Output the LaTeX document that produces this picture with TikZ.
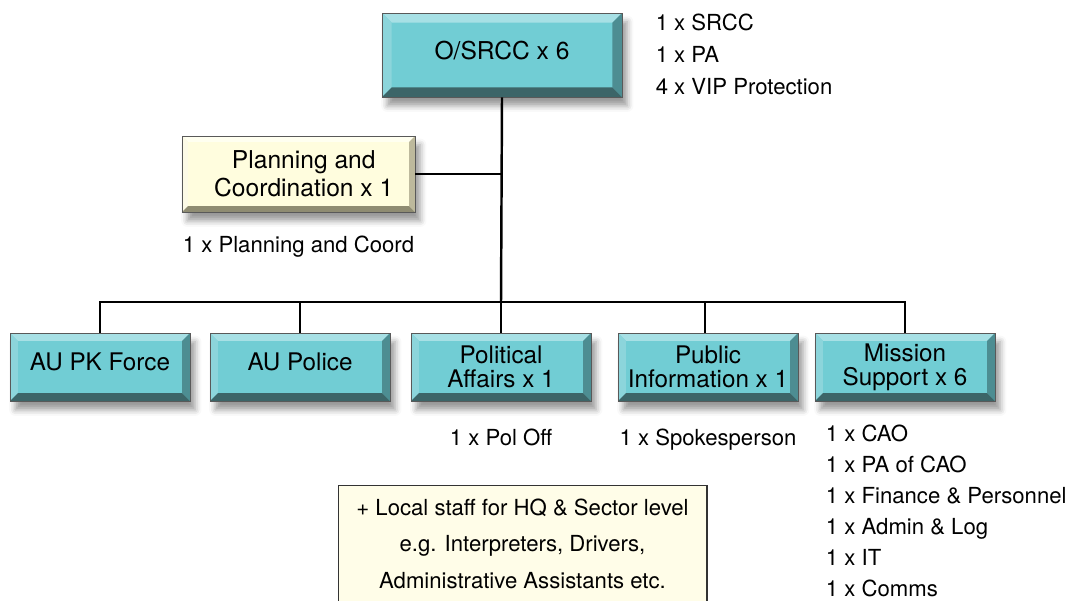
\documentclass[tikz,border=0pt]{standalone}
\usepackage{fontspec}
\setmainfont{TeX Gyre Heros}
\usetikzlibrary{positioning,shadows.blur}

\definecolor{tealmid}{RGB}{113,205,212}
\definecolor{tealtop}{RGB}{167,224,229}
\definecolor{tealleft}{RGB}{140,213,219}
\definecolor{tealright}{RGB}{77,141,146}
\definecolor{tealbottom}{RGB}{60,101,104}
\definecolor{creammid}{RGB}{255,253,222}
\definecolor{creamtop}{RGB}{255,255,240}
\definecolor{creamleft}{RGB}{252,250,230}
\definecolor{creamright}{RGB}{189,185,156}
\definecolor{creambottom}{RGB}{143,140,114}
\definecolor{notefill}{RGB}{255,253,232}

% the four bevel faces of a button box: top, left, right, bottom, width
\newcommand{\bevelfaces}[5]{%
  \coordinate (bnw) at (path picture bounding box.north west);
  \coordinate (bne) at (path picture bounding box.north east);
  \coordinate (bsw) at (path picture bounding box.south west);
  \coordinate (bse) at (path picture bounding box.south east);
  \fill[#1] (bnw) -- (bne) -- ++(-#5,-#5) -- ([shift={(#5,-#5)}]bnw) -- cycle;
  \fill[#2] (bnw) -- (bsw) -- ++(#5,#5) -- ([shift={(#5,-#5)}]bnw) -- cycle;
  \fill[#3] (bne) -- (bse) -- ++(-#5,#5) -- ([shift={(-#5,-#5)}]bne) -- cycle;
  \fill[#4] (bsw) -- (bse) -- ++(-#5,#5) -- ([shift={(#5,#5)}]bsw) -- cycle;
}

\tikzset{
  bevelbox/.style={draw=black!65, line width=0.5pt, align=center,
    font=\fontsize{13.8}{13.6}\selectfont,
    blur shadow={shadow xshift=3pt, shadow yshift=-5pt, shadow blur radius=3.5pt, shadow opacity=40}},
  tealbox/.style={bevelbox, fill=tealmid, minimum width=3.6cm, minimum height=1.36cm,
    path picture={\bevelfaces{tealtop}{tealleft}{tealright}{tealbottom}{4.5pt}}},
  oneline/.style={text depth=6pt},
  headbox/.style={bevelbox, fill=tealmid, minimum width=4.8cm, minimum height=1.68cm,
    font=\fontsize{14}{16}\selectfont, text depth=5pt,
    path picture={\bevelfaces{tealtop}{tealleft}{tealright}{tealbottom}{5.5pt}}},
  creambox/.style={bevelbox, fill=creammid, minimum width=4.66cm, minimum height=1.52cm,
    font=\fontsize{14}{16}\selectfont,
    path picture={\bevelfaces{creamtop}{creamleft}{creamright}{creambottom}{3.4pt}}},
  note/.style={font=\fontsize{12.6}{17.7}\selectfont, inner sep=0pt},
  link/.style={line width=1.4pt}
}

\begin{document}
\begin{tikzpicture}[x=0.02cm, y=-0.02cm]
    \useasboundingbox (0,0) rectangle (1074,600);
    \clip (0,0) rectangle (1074,600);

    % Draw the head box and its staff
    \node[headbox] (srcc) at (502,55) {O/SRCC x 6};
    \node[note, align=left, font=\fontsize{12.6}{18.1}\selectfont,
          below right=0.02cm and 0.66cm of srcc.north east] (srccstaff)
        {1 x SRCC\\1 x PA\\4 x VIP Protection};

    % Draw the planning box
    \node[creambox] (plan) at (298.5,174) {\hspace*{6pt}Planning and\\\hspace*{6pt}Coordination x 1};
    \node[note, below=0.46cm of plan] (planstaff) {1 x Planning and Coord};

    % Draw the row of components
    \node[tealbox, oneline] (pkforce) at (100,367) {AU PK Force};
    \node[tealbox, oneline] (police) at (300,367) {AU Police};
    \node[tealbox] (political) at (501,367) {Political\\Affairs x 1};
    \node[tealbox] (public) at (708,367) {Public\\Information x 1};
    \node[tealbox] (mission) at (905,367) {Mission\\Support x 6};

    % Draw the staff under the components
    \node[note, below=0.54cm of political] (polstaff) {1 x Pol Off};
    \node[note, below=0.54cm of public] (pubstaff) {1 x Spokesperson};
    \node[note, align=left, font=\fontsize{12.6}{17.7}\selectfont,
          below right=0.46cm and 0.22cm of mission.south west] (missionstaff)
        {1 x CAO\\1 x PA of CAO\\1 x Finance \& Personnel\\1 x Admin \& Log\\1 x IT\\1 x Comms};

    % Draw the local staff note
    \node[draw=black!80, line width=0.6pt, fill=notefill, anchor=north,
          minimum width=7.38cm, inner xsep=0pt, inner ysep=7.4pt, align=center,
          font=\fontsize{12.6}{21}\selectfont] (localstaff) at (522.5,485)
        {+ Local staff for HQ \& Sector level\\e.g. Interpreters, Drivers,\\Administrative Assistants etc.};

    % Draw the trunk and the bus
    \coordinate (hub) at (501,302);
    \draw[link] (srcc.south) -- (hub);
    \draw[link] (plan.east) -- (plan.east -| hub);
    \draw[link] (pkforce.north) -- (pkforce.north |- hub) -- (mission.north |- hub) -- (mission.north);
    \draw[link] (police.north) -- (police.north |- hub);
    \draw[link] (political.north) -- (political.north |- hub);
    \draw[link] ([xshift=-1.7pt]public.north) -- ([xshift=-1.7pt]public.north |- hub);
\end{tikzpicture}
\end{document}
